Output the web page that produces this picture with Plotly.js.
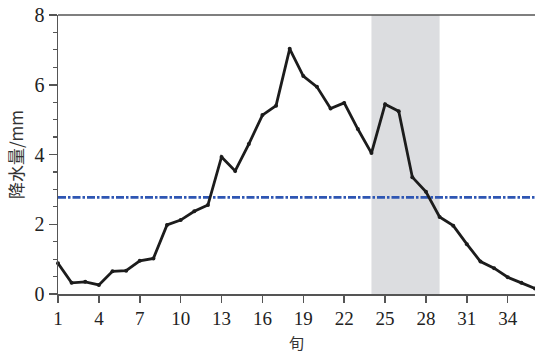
<!DOCTYPE html>
<html>
<head>
<meta charset="utf-8">
<script src="https://cdn.plot.ly/plotly-3.0.1.min.js"></script>
<style>
  html, body { margin: 0; padding: 0; background: #fff; }
  #chart { width: 535px; height: 352px; }
</style>
</head>
<body>
<div id="chart"></div>
<script>
// 旬序号 (1–36) and 旬降水量 (mm)
const dekads = [1,2,3,4,5,6,7,8,9,10,11,12,13,14,15,16,17,18,19,20,21,22,23,24,25,26,27,28,29,30,31,32,33,34,35,36];
const precip = [0.88,0.32,0.35,0.26,0.65,0.67,0.95,1.02,1.98,2.12,2.37,2.55,3.93,3.53,4.30,5.13,5.40,7.03,6.25,5.94,5.32,5.48,4.73,4.04,5.44,5.24,3.35,2.93,2.21,1.96,1.43,0.93,0.74,0.48,0.32,0.16];
const meanPrecip = 2.77;          // 平均旬降水量
const highlightSpan = [24, 29];   // 阴影时段
const xTicks = [1,4,7,10,13,16,19,22,25,28,31,34];
const yTicks = [0,2,4,6,8];
const xTitle = '旬';
const yTitle = '降水量/mm';

const serif = '"Liberation Serif", "DejaVu Serif", serif';
const cjk = '"Noto Sans CJK SC", sans-serif';
const axisColor = '#555555';

const traces = [
  {
    x: [dekads[0], dekads[dekads.length - 1]],
    y: [meanPrecip, meanPrecip],
    mode: 'lines',
    line: { color: '#2e56b3', width: 2.6, dash: '8px,2px,2.5px,2px' },
    hoverinfo: 'skip'
  },
  {
    x: dekads,
    y: precip,
    mode: 'lines+markers',
    line: { color: '#1c1c1c', width: 2.8 },
    marker: { color: '#1c1c1c', size: 4 },
    cliponaxis: false
  }
];

const layout = {
  width: 535,
  height: 352,
  margin: { l: 58, r: 0, t: 15, b: 58 },
  paper_bgcolor: '#ffffff',
  plot_bgcolor: '#ffffff',
  showlegend: false,
  xaxis: {
    range: [1, 36],
    tickvals: xTicks,
    ticktext: xTicks.map(String),
    ticks: 'outside',
    ticklen: 7,
    tickwidth: 1.5,
    tickcolor: axisColor,
    showline: true,
    linecolor: axisColor,
    linewidth: 1.5,
    showgrid: false,
    zeroline: false,
    tickfont: { family: serif, size: 19, color: '#222' }
  },
  yaxis: {
    range: [0, 8],
    tickvals: yTicks,
    ticks: 'outside',
    ticklen: 8,
    tickwidth: 1.5,
    tickcolor: axisColor,
    minor: { dtick: 0.5, ticks: 'outside', ticklen: 4, tickwidth: 1.2, tickcolor: axisColor, showgrid: false },
    showline: true,
    linecolor: axisColor,
    linewidth: 1.5,
    showgrid: false,
    zeroline: false,
    tickfont: { family: serif, size: 20, color: '#222' },
    title: { text: yTitle, font: { family: cjk, size: 17, color: '#333' }, standoff: 6 }
  },
  // x-axis title placed below the tick labels
  annotations: [
    {
      text: xTitle, xref: 'paper', yref: 'paper',
      x: 0.5, y: -0.174, xanchor: 'center', yanchor: 'middle',
      showarrow: false, borderpad: 0,
      font: { family: cjk, size: 15, color: '#333' }
    }
  ],
  shapes: [
    {
      type: 'rect', xref: 'x', yref: 'y',
      x0: highlightSpan[0], x1: highlightSpan[1], y0: 0, y1: 8,
      fillcolor: '#dcdde0', line: { width: 0 }, layer: 'below'
    },
    {
      type: 'line', xref: 'paper', yref: 'paper',
      x0: 0, x1: 1, y0: 1, y1: 1,
      line: { color: axisColor, width: 1.5 }
    }
  ]
};

Plotly.newPlot('chart', traces, layout, { staticPlot: true, displayModeBar: false });
</script>
</body>
</html>
